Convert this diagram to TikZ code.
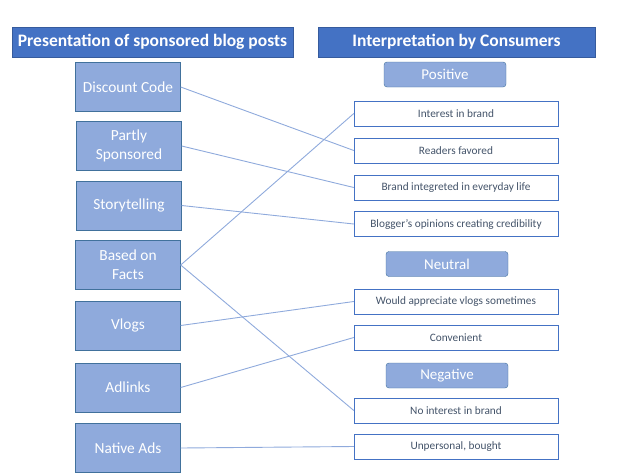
\documentclass[tikz,border=0pt]{standalone}
\usepackage{fontspec}
\setmainfont{Carlito}
\usepackage{tikz}
\usetikzlibrary{arrows.meta, positioning}
\definecolor{headcolor}{RGB}{68,114,196}
\definecolor{formcolor}{RGB}{143,170,220}
\definecolor{formline}{RGB}{65,113,156}
\definecolor{itemtext}{RGB}{68,84,106}
\definecolor{linkcolor}{RGB}{143,170,220}

\begin{document}
\begin{tikzpicture}[
    x=1pt, y=-1pt,
    header/.style={fill=headcolor, draw=headcolor!80!black, minimum width=#1, minimum height=30pt, inner sep=0pt, text=white, font=\fontsize{17.5}{20}\selectfont\bfseries},
    form/.style={draw=formline, fill=formcolor, minimum width=105pt, minimum height=49pt, inner sep=0pt, text=white, align=center, font=\fontsize{15.4}{19}\selectfont},
    tone/.style={draw=formline, fill=formcolor, rounded corners=3pt, minimum width=122pt, minimum height=25pt, inner sep=0pt, text=white, font=\fontsize{15}{17}\selectfont},
    item/.style={draw=headcolor, fill=white, minimum width=204pt, minimum height=25pt, inner sep=0pt, text=itemtext, font=\fontsize{11.3}{13}\selectfont},
    link/.style={draw=linkcolor, line width=0.9pt}
]
    \useasboundingbox (0,0) rectangle (630,475);

    % column headers
    \node[header=281pt] (lefthead) at (152.5,42) {Presentation of sponsored blog posts};
    \node[header=277pt] (righthead) at (456.5,42) {Interpretation by Consumers};

    % presentation forms
    \node[form] (discount) at (128,87) {Discount Code};
    \node[form] (partly) at (129,146) {Partly\\Sponsored};
    \node[form] (story) at (129,205.5) {Storytelling};
    \node[form] (facts) at (128,265) {Based on\\Facts};
    \node[form] (vlogs) at (128,325.5) {Vlogs};
    \node[form] (adlinks) at (128,387.5) {Adlinks};
    \node[form] (native) at (128,448) {Native Ads};

    % interpretation
    \node[tone] (positive) at (445,74.5) {Positive};
    \node[item] (interest) at (456,113.5) {Interest in brand};
    \node[item] (readers) at (456,150.5) {Readers favored};
    \node[item] (everyday) at (456,187.5) {Brand integreted in everyday life};
    \node[item] (opinions) at (456,224) {Blogger’s opinions creating credibility};
    \node[tone] (neutral) at (447,264) {Neutral};
    \node[item] (appreciate) at (456,301.5) {Would appreciate vlogs sometimes};
    \node[item] (convenient) at (456,337.5) {Convenient};
    \node[tone] (negative) at (447,375.5) {Negative};
    \node[item] (nointerest) at (456,410.5) {No interest in brand};
    \node[item] (unpersonal) at (456,446.5) {Unpersonal, bought};

    \draw[link] (discount.east) -- (readers.west);
    \draw[link] (partly.east) -- (everyday.west);
    \draw[link] (story.east) -- (opinions.west);
    \draw[link] (facts.east) -- (interest.west);
    \draw[link] (facts.east) -- (nointerest.west);
    \draw[link] (vlogs.east) -- (appreciate.west);
    \draw[link] (adlinks.east) -- (convenient.west);
    \draw[link] (native.east) -- (unpersonal.west);
\end{tikzpicture}
\end{document}
